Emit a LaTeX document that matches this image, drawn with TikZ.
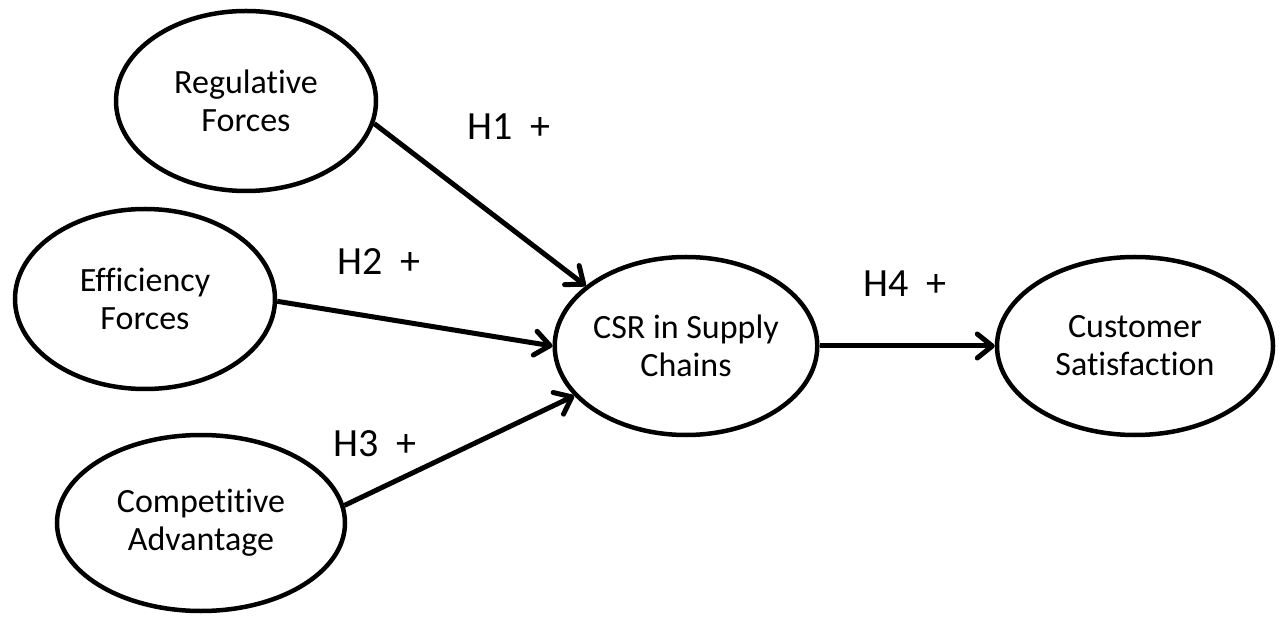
\documentclass[tikz,border=0pt]{standalone}
\usepackage{fontspec}
\setmainfont[Ligatures={NoCommon,NoRequired,NoContextual}]{Carlito}
\usetikzlibrary{shapes.geometric,arrows.meta}
\tikzset{
  construct/.style={ellipse, draw, line width=4.5pt, inner sep=0pt, align=center,
    font=\fontsize{34}{38}\selectfont},
  arr/.style={line width=5pt, -{Straight Barb[length=15pt,width=24pt,round]}},
  hyp/.style={anchor=base west, inner sep=0pt, font=\fontsize{40}{48}\selectfont}
}
\begin{document}
\begin{tikzpicture}[x=1pt,y=1pt]
\useasboundingbox (0,0) rectangle (1281,616);
\node[construct, minimum width=260pt, minimum height=180pt] (reg) at (246,515) {Regulative\\Forces};
\node[construct, minimum width=260pt, minimum height=180pt] (eff) at (145,317) {Efficiency\\Forces};
\node[construct, minimum width=288pt, minimum height=176pt] (comp) at (201,93) {Competitive\\Advantage};
\node[construct, minimum width=262pt, minimum height=178pt] (csr) at (686,270) {CSR in Supply\\Chains};
\node[construct, minimum width=276pt, minimum height=178pt] (cust) at (1135,270) {Customer\\Satisfaction};
\draw[arr] (reg.-10) -- (csr.149);
\draw[arr] (eff.-1) -- (csr.west);
\draw[arr] (comp.7) -- (csr.204);
\draw[arr] (csr.east) -- (cust.west);
\node[hyp] (h1) at (467,476) {H1~~+};
\node[hyp] (h2) at (337,341) {H2~~+};
\node[hyp] (h3) at (333,160) {H3~~+};
\node[hyp] (h4) at (863,319) {H4~~+};
\end{tikzpicture}
\end{document}
